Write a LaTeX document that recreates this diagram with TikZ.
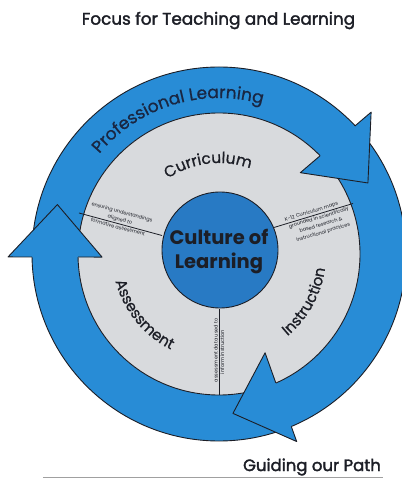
\documentclass[tikz,border=0pt]{standalone}
\usepackage{fontspec}
\setmainfont{Poppins}
\newfontfamily\semib{Poppins}[FakeBold=2]
\newfontfamily\lightb{Poppins}[FakeBold=0.8]
\usetikzlibrary{decorations.text,calc}
\definecolor{ringblue}{RGB}{40,140,214}
\definecolor{coreblue}{RGB}{40,122,196}
\definecolor{diskgray}{RGB}{216,218,221}
\definecolor{inkc}{RGB}{28,30,38}
\definecolor{navy}{RGB}{25,38,66}
\definecolor{ruleg}{RGB}{160,160,160}
\begin{document}
\begin{tikzpicture}[x=1pt,y=1pt,
  outl/.style={draw=inkc, line width=0.9pt, line join=round},
  tiny/.style={font=\fontsize{5}{7.6}\selectfont, inner sep=1pt, align=center, text=inkc}]
\useasboundingbox (-219,-224) rectangle (182,254);
% ring
\fill[ringblue, even odd rule] (0,0) circle[radius=187] (0,0) circle[radius=141];
\draw[outl] (0,0) circle[radius=187];
% gray disk
\filldraw[fill=diskgray, outl] (0,0) circle[radius=141];
% arrowheads
\coordinate (h1o) at (43:208); \coordinate (h1i) at (45:115); \coordinate (h1t) at (25.5:165);
\coordinate (h2o) at (-67.5:203); \coordinate (h2i) at (-65:109); \coordinate (h2t) at (-85:160);
\coordinate (h3o) at (180.8:211); \coordinate (h3i) at (181.5:117); \coordinate (h3t) at (163:169);
\fill[ringblue] (h1o) -- (h1t) -- (h1i) -- cycle;
\draw[outl] ($(h1o)!0.23!(h1i)$) -- (h1o) -- (h1t) -- (h1i) -- ($(h1o)!0.72!(h1i)$);
\fill[ringblue] (h2o) -- (h2t) -- (h2i) -- cycle;
\draw[outl] ($(h2o)!0.17!(h2i)$) -- (h2o) -- (h2t) -- (h2i) -- ($(h2o)!0.66!(h2i)$);
\fill[ringblue] (h3o) -- (h3t) -- (h3i) -- cycle;
\draw[outl] ($(h3o)!0.255!(h3i)$) -- (h3o) -- (h3t) -- (h3i) -- ($(h3o)!0.745!(h3i)$);
% dividers
\coordinate (la) at (-140,41); \coordinate (lb) at (-57,18.5);
\coordinate (ra) at (50,25); \coordinate (rb) at (134,50.5);
\coordinate (ba) at (0,-141); \coordinate (bb) at (0,-55);
\draw[outl, line width=0.8pt] (la) -- (lb)
  node[tiny, pos=0.48, sloped, above] (lt1) {ensuring understandings\\aligned to}
  node[tiny, pos=0.48, sloped, below] (lt2) {formative assessment};
\draw[outl, line width=0.8pt] (ra) -- (rb)
  node[tiny, pos=0.52, sloped, above] (rt1) {K-12 Curriculum maps}
  node[tiny, pos=0.58, sloped, below] (rt2) {grounded in scientifically\\based research \&\\instructional practices};
\draw[outl, line width=0.8pt] (ba) -- (bb)
  node[tiny, pos=0.52, sloped, above] (bt1) {assessment data used to}
  node[tiny, pos=0.5, sloped, below] (bt2) {inform instruction};
% core
\filldraw[fill=coreblue, outl] (1,4) circle[radius=58];
\node[font=\bfseries\fontsize{19.5}{24}\selectfont, text=inkc, align=center] (core) at (0,2) {Culture of\\Learning};
% curved labels
\path[decorate, decoration={text along path, text align=center, text color=navy,
  text={|\lightb\fontsize{17}{20}\selectfont|Professional Learning}}]
  (155:156) arc[start angle=155, end angle=59, radius=156];
\path[decorate, decoration={text along path, text align=center, text color=inkc,
  text={|\lightb\fontsize{15.5}{18}\selectfont|Curriculum}}]
  (137:91) arc[start angle=137, end angle=57, radius=91];
\path[decorate, decoration={text along path, text align=center, text color=inkc,
  text={|\lightb\fontsize{15}{18}\selectfont|Assessment}}]
  (178:107) arc[start angle=178, end angle=260, radius=107];
\path[decorate, decoration={text along path, text align=center, text color=inkc,
  text={|\lightb\fontsize{15}{18}\selectfont|Instruction}}]
  (-70:107) arc[start angle=-70, end angle=12, radius=107];
% titles
\node[font=\semib\fontsize{16.8}{20}\selectfont, text=inkc] (title) at (-0.5,233.5) {Focus for Teaching and Learning};
\node[font=\semib\fontsize{16.5}{20}\selectfont, text=inkc] (guide) at (93,-213) {Guiding our Path};
\coordinate (g1) at (-176,-223); \coordinate (g2) at (164,-223);
\draw[ruleg, line width=1pt] (g1) -- (g2);
\end{tikzpicture}
\end{document}
